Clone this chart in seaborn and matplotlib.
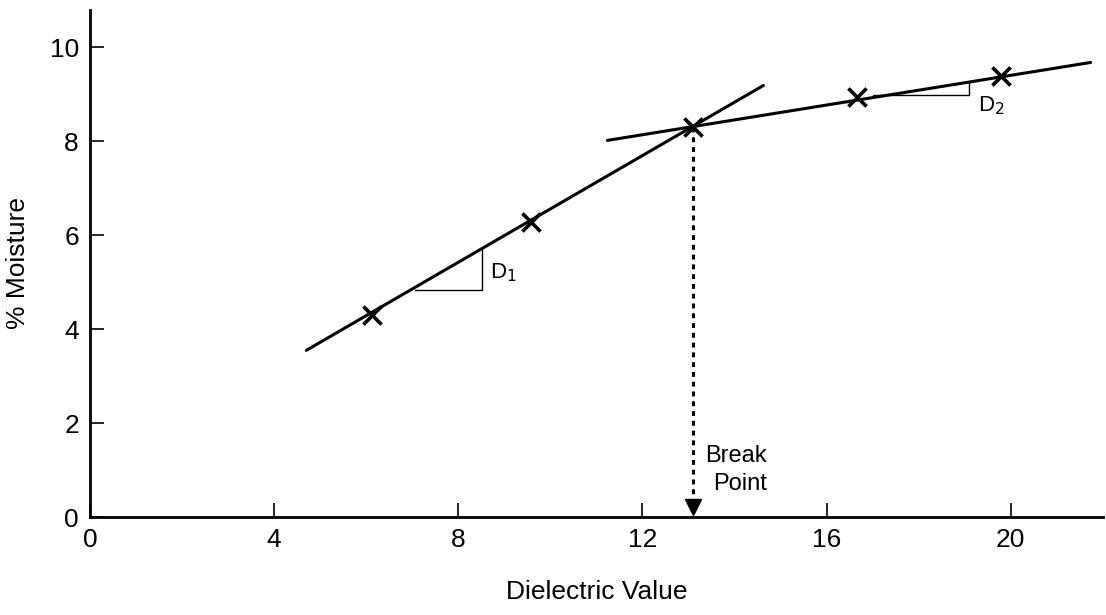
import matplotlib
matplotlib.use("Agg")
import matplotlib.pyplot as plt
import seaborn as sns
import pandas as pd

# Measured calibration points
dielectric = [6.13, 9.57, 13.1, 16.67, 19.8]
moisture = [4.30, 6.28, 8.30, 8.94, 9.40]

# Fitted straight segments (end points)
seg1_x = [4.7, 14.63]
seg1_y = [3.55, 9.19]
seg2_x = [11.24, 21.74]
seg2_y = [8.02, 9.68]

# Slope triangles
d1_x = [7.07, 8.52, 8.52]
d1_y = [4.83, 4.83, 5.68]
d2_x = [17.0, 19.1, 19.1]
d2_y = [8.98, 8.98, 9.25]

break_x = 13.1
break_y = 8.30

sns.set_style("ticks")
plt.rcParams["font.family"] = ["Liberation Sans", "DejaVu Sans"]
plt.rcParams["text.color"] = "black"
plt.rcParams["axes.labelcolor"] = "black"

fig = plt.figure(figsize=(11.06, 6.15), dpi=100)
ax = fig.add_axes([0.0814, 0.1593, 0.9156, 0.8247])

line_kw = dict(ax=ax, color="black", sort=False, estimator=None)
sns.lineplot(x=seg1_x, y=seg1_y, lw=2.2, **line_kw)
sns.lineplot(x=seg2_x, y=seg2_y, lw=2.2, **line_kw)
sns.lineplot(x=d1_x, y=d1_y, lw=1.0, **line_kw)
sns.lineplot(x=d2_x, y=d2_y, lw=1.0, **line_kw)

pts = pd.DataFrame({"Dielectric": dielectric, "Moisture": moisture})
sns.scatterplot(data=pts, x="Dielectric", y="Moisture", ax=ax, marker="x",
                s=170, color="black", linewidth=2.6, zorder=5)

# Break point drop line with arrow head
ax.plot([break_x, break_x], [break_y, 0.35], color="black", lw=2.2,
        linestyle=(0, (1.6, 1.6)))
ax.plot([break_x], [0.22], marker="v", markersize=11, color="black",
        linestyle="none")

ax.text(8.7, 5.2, "D$_1$", fontsize=16, ha="left", va="center")
ax.text(19.3, 8.75, "D$_2$", fontsize=16, ha="left", va="center")
ax.text(14.7, 1.0, "Break\nPoint", fontsize=17, ha="right", va="center",
        linespacing=1.35)

ax.set_xlim(0, 22)
ax.set_ylim(0, 10.8)
ax.set_xticks([0, 4, 8, 12, 16, 20])
ax.set_yticks([0, 2, 4, 6, 8, 10])
ax.tick_params(axis="both", direction="in", length=10, width=1.2,
               labelsize=19, colors="black", pad=8)
ax.set_xlabel("Dielectric Value", fontsize=19, labelpad=20)
ax.set_ylabel("% Moisture", fontsize=19, labelpad=14)

sns.despine(ax=ax)
for s in ("left", "bottom"):
    ax.spines[s].set_linewidth(2.0)
    ax.spines[s].set_color("black")

fig.savefig("out.png", dpi=100)
